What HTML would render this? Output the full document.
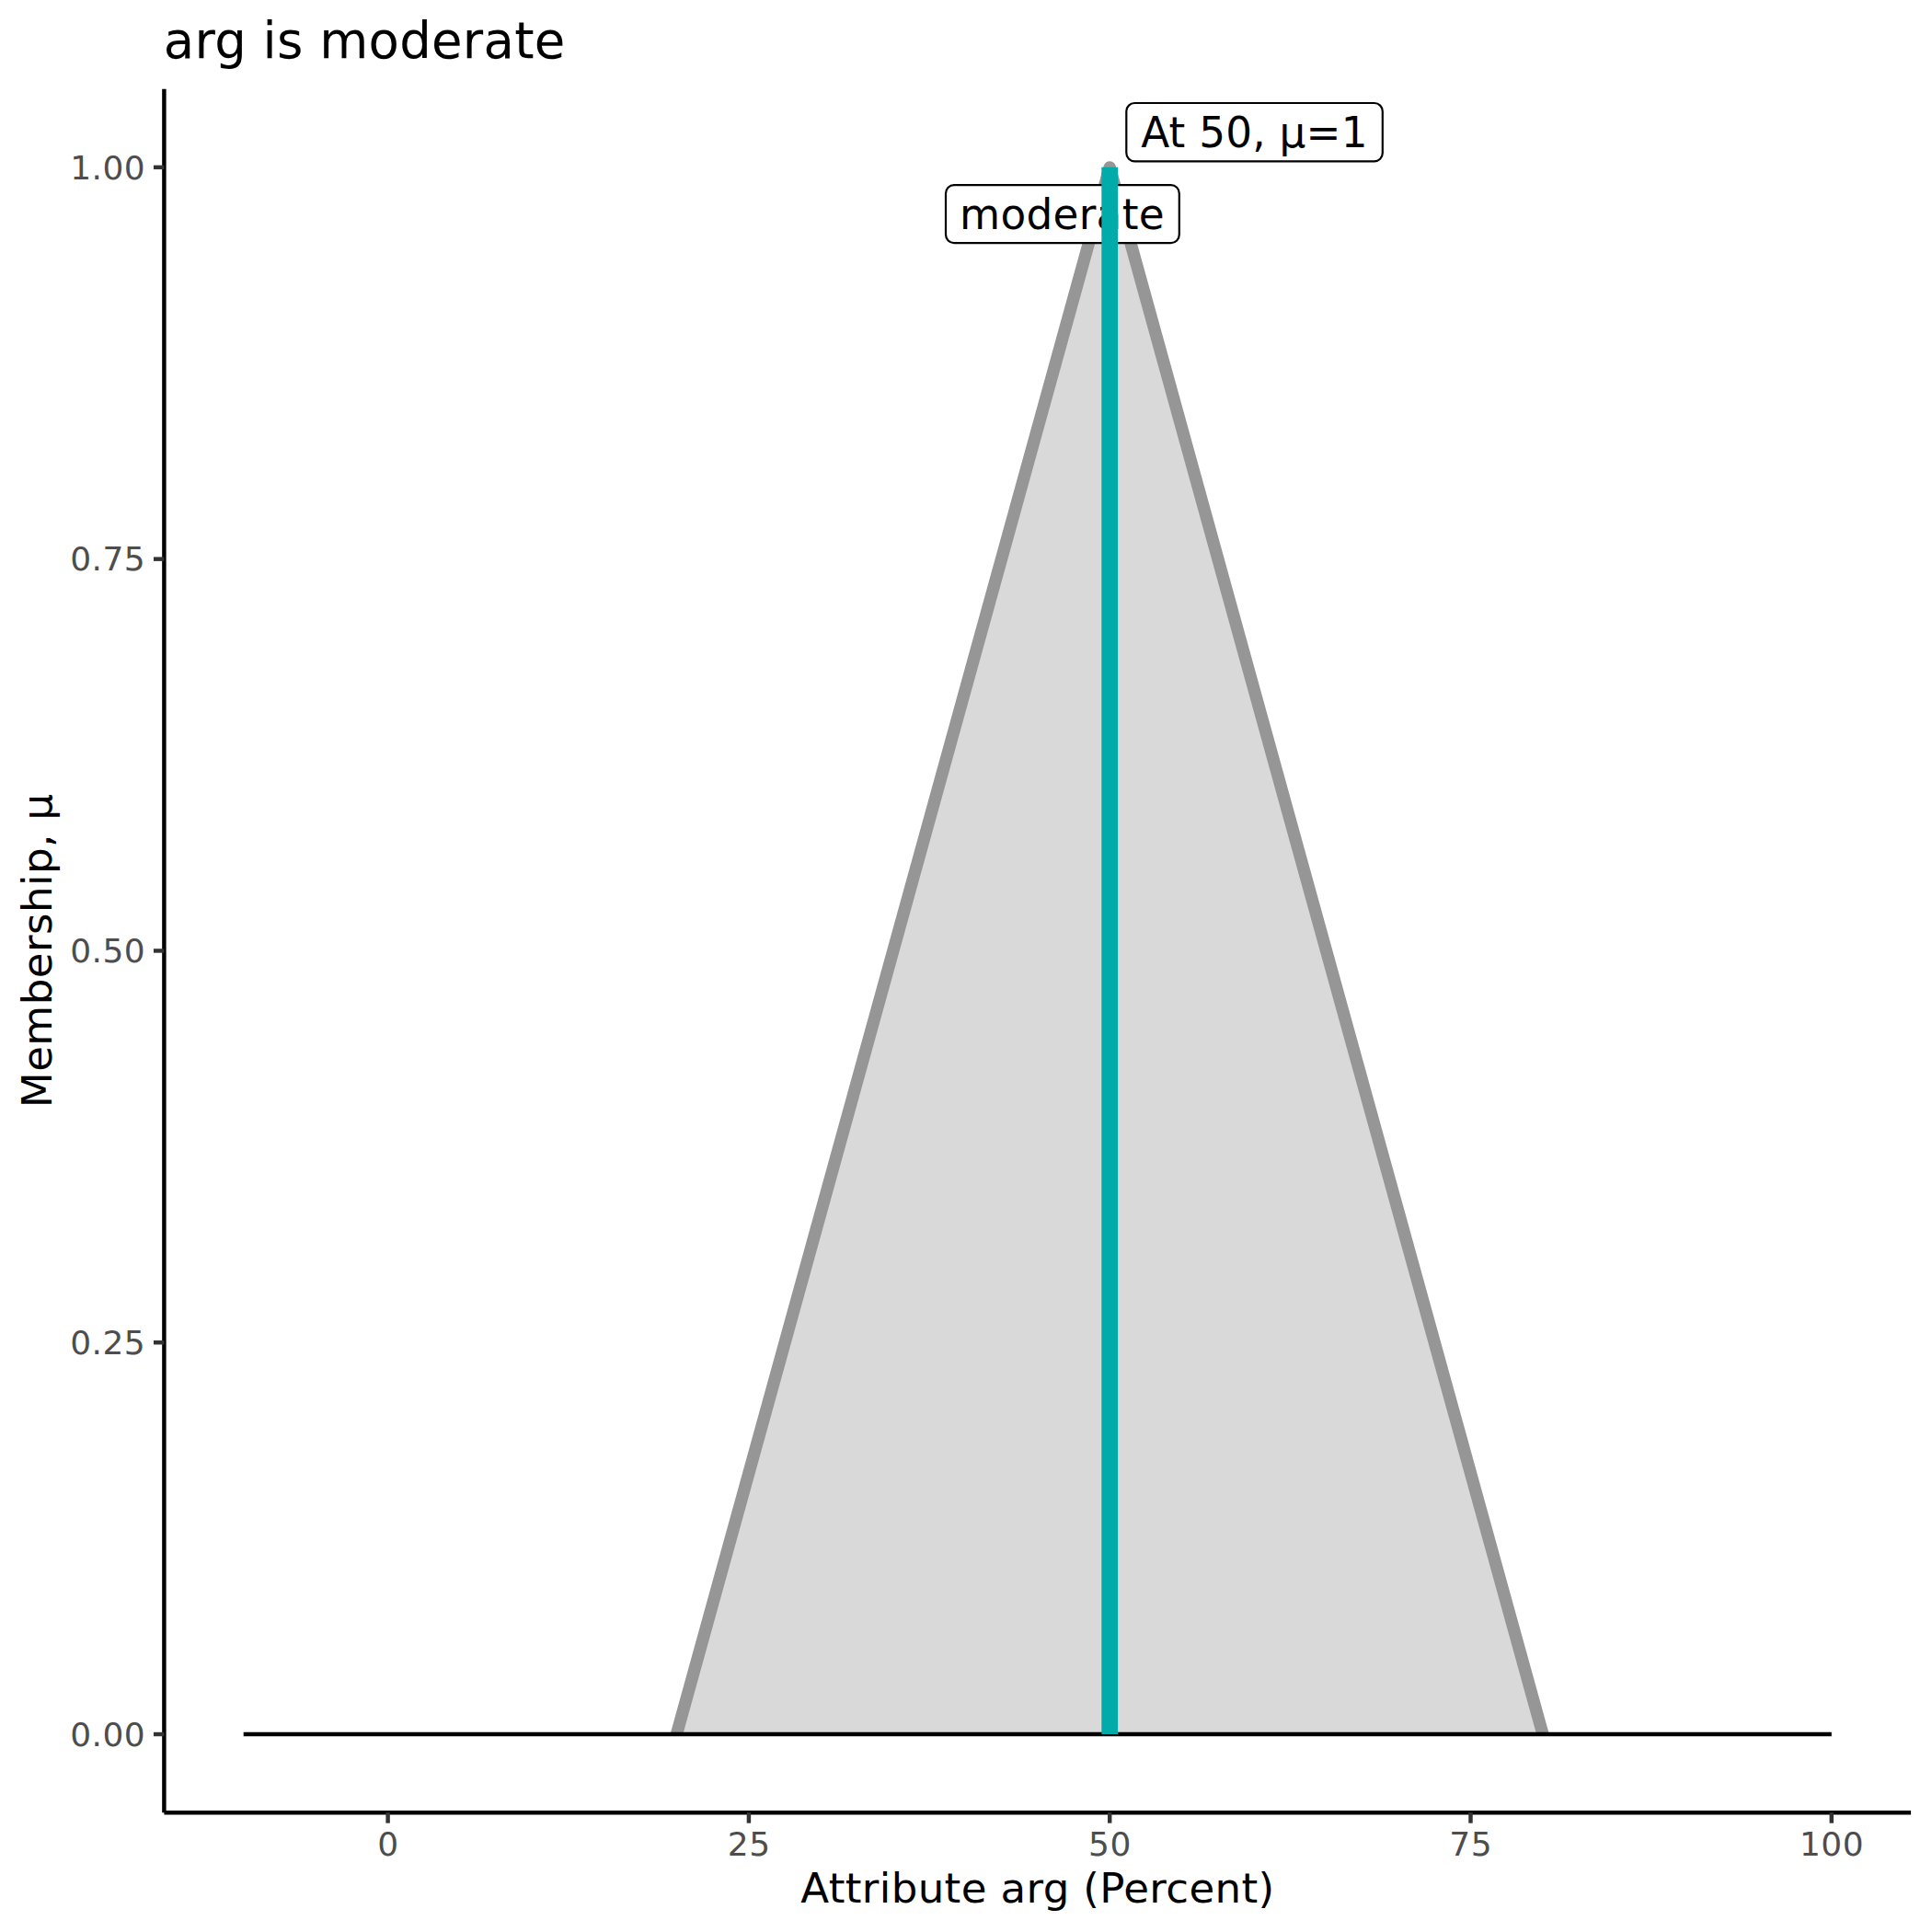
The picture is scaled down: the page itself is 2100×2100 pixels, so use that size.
<!DOCTYPE html>
<html><head><meta charset="utf-8"><title>arg is moderate</title>
<style>
html,body{margin:0;padding:0;background:#fff;}
svg{display:block;}
text{font-family:'DejaVu Sans','Liberation Sans',sans-serif;}
.at{font-size:36px;fill:#4D4D4D;}
.lab{font-size:45.3px;fill:#000;}
.ttl{font-size:45.1px;fill:#000;}
</style></head><body>
<svg width="2100" height="2100" viewBox="0 0 2100 2100">
<rect x="0" y="0" width="2100" height="2100" fill="#ffffff"/>
<polygon points="735.46,1885.04 1206.21,181.86 1676.96,1885.04" fill="#D9D9D9"/>
<polyline points="735.46,1885.04 1206.21,181.86 1676.96,1885.04" fill="none" stroke="#969696" stroke-width="13.34" stroke-linejoin="round" stroke-linecap="butt"/>
<line x1="264.70" y1="1885.04" x2="1990.80" y2="1885.04" stroke="#000" stroke-width="4.45"/>
<rect x="1028.0" y="201.2" width="253.80" height="62.90" rx="9" ry="9" fill="#fff" stroke="#000" stroke-width="2.2"/>
<text class="lab" x="1043.00" y="248.90" textLength="222.6" lengthAdjust="spacing">moderate</text>
<line x1="1206.21" y1="1885.04" x2="1206.21" y2="181.86" stroke="#00ABA9" stroke-width="17.8"/>
<rect x="1224.3" y="112.0" width="278.50" height="63.30" rx="9" ry="9" fill="#fff" stroke="#000" stroke-width="2.2"/>
<text class="lab" x="1240.20" y="160.10" textLength="246.3" lengthAdjust="spacing">At 50, μ=1</text>
<line x1="178.4" y1="96.7" x2="178.4" y2="1970.2" stroke="#000" stroke-width="4.45"/>
<line x1="178.4" y1="1970.2" x2="2077.1" y2="1970.2" stroke="#000" stroke-width="4.45"/>
<line x1="166.94" y1="1885.04" x2="178.40" y2="1885.04" stroke="#333" stroke-width="4.45"/>
<text class="at" text-anchor="end" transform="translate(157.77,1897.84) scale(1,0.975)" textLength="81.6" lengthAdjust="spacing">0.00</text>
<line x1="166.94" y1="1459.25" x2="178.40" y2="1459.25" stroke="#333" stroke-width="4.45"/>
<text class="at" text-anchor="end" transform="translate(157.77,1472.05) scale(1,0.975)" textLength="81.6" lengthAdjust="spacing">0.25</text>
<line x1="166.94" y1="1033.45" x2="178.40" y2="1033.45" stroke="#333" stroke-width="4.45"/>
<text class="at" text-anchor="end" transform="translate(157.77,1046.25) scale(1,0.975)" textLength="81.6" lengthAdjust="spacing">0.50</text>
<line x1="166.94" y1="607.65" x2="178.40" y2="607.65" stroke="#333" stroke-width="4.45"/>
<text class="at" text-anchor="end" transform="translate(157.77,620.45) scale(1,0.975)" textLength="81.6" lengthAdjust="spacing">0.75</text>
<line x1="166.94" y1="181.86" x2="178.40" y2="181.86" stroke="#333" stroke-width="4.45"/>
<text class="at" text-anchor="end" transform="translate(157.77,194.66) scale(1,0.975)" textLength="81.6" lengthAdjust="spacing">1.00</text>
<line x1="421.62" y1="1970.20" x2="421.62" y2="1981.66" stroke="#333" stroke-width="4.45"/>
<text class="at" text-anchor="middle" transform="translate(421.62,2016.5) scale(1,0.968)" textLength="23.15" lengthAdjust="spacing">0</text>
<line x1="813.92" y1="1970.20" x2="813.92" y2="1981.66" stroke="#333" stroke-width="4.45"/>
<text class="at" text-anchor="middle" transform="translate(813.92,2016.5) scale(1,0.968)" textLength="46.30" lengthAdjust="spacing">25</text>
<line x1="1206.21" y1="1970.20" x2="1206.21" y2="1981.66" stroke="#333" stroke-width="4.45"/>
<text class="at" text-anchor="middle" transform="translate(1206.21,2016.5) scale(1,0.968)" textLength="46.30" lengthAdjust="spacing">50</text>
<line x1="1598.50" y1="1970.20" x2="1598.50" y2="1981.66" stroke="#333" stroke-width="4.45"/>
<text class="at" text-anchor="middle" transform="translate(1598.50,2016.5) scale(1,0.968)" textLength="46.30" lengthAdjust="spacing">75</text>
<line x1="1990.80" y1="1970.20" x2="1990.80" y2="1981.66" stroke="#333" stroke-width="4.45"/>
<text class="at" text-anchor="middle" transform="translate(1990.80,2016.5) scale(1,0.968)" textLength="69.45" lengthAdjust="spacing">100</text>
<text x="177.80" y="63.0" textLength="436.5" lengthAdjust="spacing" style="font-size:54.5px;fill:#000">arg is moderate</text>
<text class="ttl" text-anchor="middle" x="1127.75" y="2067.7" textLength="514.9" lengthAdjust="spacing">Attribute arg (Percent)</text>
<text class="ttl" text-anchor="middle" transform="translate(56.1,1033.45) rotate(-90)" textLength="341.5" lengthAdjust="spacing">Membership, μ</text>
</svg></body></html>
